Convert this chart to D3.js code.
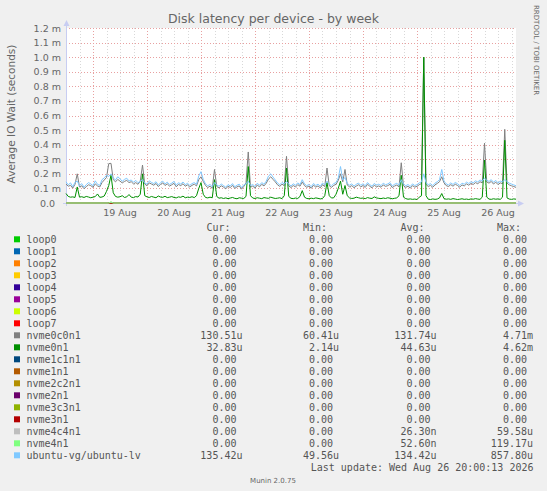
<!DOCTYPE html>
<html>
<head>
<meta charset="utf-8">
<script src="https://cdn.jsdelivr.net/npm/d3@7"></script>
<style>
body{margin:0;background:#f0f0f0;}
svg{display:block;}
text{font-family:"DejaVu Sans",sans-serif;fill:#666;}
.mono{font-family:"DejaVu Sans Mono",monospace;font-size:10px;fill:#555;white-space:pre;}
</style>
</head>
<body>
<svg></svg>
<script>
// hourly averages in ms, starting 18 Aug 12:00 (201 points, last at 26 Aug 20:00)
var startTime = new Date(Date.UTC(2026, 7, 18, 12, 0));
var endTime = new Date(Date.UTC(2026, 7, 26, 20, 0));

var nvme0c0n1 = [
 0.130,0.115,0.121,0.102,0.128,0.200,0.110,0.118,0.098,0.112,
 0.125,0.119,0.108,0.131,0.117,0.110,0.140,0.158,0.175,0.270,
 0.272,0.160,0.145,0.162,0.150,0.138,0.148,0.155,0.140,0.146,
 0.131,0.140,0.128,0.150,0.260,0.130,0.118,0.138,0.130,0.122,
 0.134,0.113,0.127,0.138,0.120,0.131,0.116,0.125,0.135,0.111,
 0.127,0.119,0.132,0.115,0.124,0.110,0.121,0.129,0.117,0.160,
 0.180,0.148,0.120,0.106,0.115,0.100,0.230,0.113,0.104,0.118,
 0.109,0.097,0.115,0.106,0.121,0.100,0.111,0.117,0.095,0.113,
 0.140,0.350,0.108,0.116,0.102,0.123,0.111,0.128,0.117,0.136,
 0.165,0.180,0.162,0.145,0.125,0.114,0.129,0.119,0.320,0.117,
 0.106,0.120,0.110,0.126,0.115,0.145,0.119,0.108,0.116,0.101,
 0.122,0.109,0.117,0.104,0.125,0.113,0.240,0.118,0.107,0.121,
 0.128,0.155,0.200,0.145,0.230,0.123,0.111,0.119,0.105,0.116,
 0.125,0.110,0.120,0.107,0.128,0.115,0.104,0.122,0.111,0.117,
 0.108,0.124,0.114,0.119,0.128,0.106,0.116,0.123,0.111,0.276,
 0.118,0.107,0.115,0.102,0.119,0.109,0.114,0.126,0.133,1.000,
 0.128,0.113,0.121,0.108,0.124,0.134,0.146,0.180,0.138,0.119,
 0.113,0.126,0.115,0.129,0.120,0.109,0.124,0.117,0.131,0.122,
 0.134,0.127,0.140,0.132,0.146,0.138,0.410,0.144,0.136,0.148,
 0.130,0.143,0.126,0.138,0.132,0.505,0.136,0.124,0.118,0.113,
 0.107];

var nvme0n1 = [
 0.065,0.045,0.040,0.042,0.038,0.110,0.040,0.043,0.038,0.045,
 0.041,0.036,0.040,0.044,0.062,0.039,0.041,0.048,0.080,0.120,
 0.190,0.070,0.045,0.040,0.043,0.050,0.038,0.042,0.058,0.040,
 0.037,0.044,0.041,0.060,0.200,0.050,0.042,0.038,0.045,0.040,
 0.036,0.048,0.041,0.039,0.046,0.037,0.040,0.044,0.038,0.035,
 0.042,0.039,0.047,0.036,0.040,0.038,0.043,0.037,0.050,0.100,
 0.140,0.060,0.038,0.035,0.040,0.036,0.160,0.045,0.033,0.036,
 0.031,0.035,0.030,0.034,0.038,0.032,0.029,0.036,0.033,0.031,
 0.045,0.250,0.050,0.034,0.031,0.036,0.033,0.030,0.037,0.034,
 0.032,0.040,0.035,0.031,0.033,0.036,0.030,0.050,0.240,0.045,
 0.032,0.030,0.034,0.031,0.045,0.085,0.040,0.031,0.029,0.033,
 0.030,0.035,0.032,0.028,0.031,0.050,0.140,0.050,0.034,0.036,
 0.060,0.100,0.150,0.060,0.120,0.050,0.035,0.031,0.033,0.040,
 0.036,0.032,0.034,0.030,0.037,0.033,0.031,0.042,0.035,0.032,
 0.030,0.034,0.031,0.036,0.033,0.029,0.032,0.035,0.050,0.190,
 0.040,0.030,0.026,0.028,0.025,0.027,0.024,0.040,0.050,1.000,
 0.050,0.026,0.024,0.028,0.025,0.027,0.035,0.065,0.030,0.026,
 0.028,0.025,0.030,0.027,0.024,0.026,0.029,0.025,0.027,0.024,
 0.028,0.026,0.030,0.027,0.025,0.040,0.295,0.040,0.027,0.025,
 0.029,0.026,0.028,0.025,0.040,0.430,0.035,0.027,0.025,0.028,
 0.026];

var ubuntuLv = [
 0.145,0.125,0.138,0.112,0.142,0.150,0.118,0.133,0.108,0.126,
 0.140,0.131,0.119,0.152,0.128,0.121,0.160,0.172,0.190,0.182,
 0.200,0.171,0.158,0.180,0.166,0.149,0.162,0.170,0.151,0.158,
 0.142,0.155,0.139,0.148,0.160,0.137,0.129,0.152,0.141,0.133,
 0.146,0.124,0.138,0.150,0.131,0.143,0.127,0.136,0.148,0.122,
 0.139,0.130,0.144,0.126,0.135,0.121,0.133,0.140,0.128,0.185,
 0.215,0.162,0.131,0.118,0.127,0.112,0.140,0.124,0.115,0.130,
 0.120,0.108,0.126,0.117,0.133,0.111,0.122,0.129,0.106,0.124,
 0.131,0.150,0.119,0.127,0.113,0.135,0.122,0.140,0.128,0.150,
 0.185,0.200,0.178,0.158,0.137,0.125,0.141,0.130,0.148,0.128,
 0.117,0.132,0.121,0.138,0.126,0.160,0.131,0.119,0.127,0.112,
 0.134,0.120,0.129,0.115,0.137,0.124,0.150,0.130,0.118,0.133,
 0.140,0.170,0.250,0.158,0.175,0.135,0.122,0.131,0.116,0.128,
 0.137,0.121,0.132,0.118,0.140,0.126,0.115,0.134,0.122,0.129,
 0.119,0.136,0.125,0.131,0.140,0.117,0.128,0.135,0.122,0.160,
 0.130,0.118,0.127,0.113,0.131,0.120,0.126,0.138,0.145,0.200,
 0.140,0.125,0.133,0.119,0.136,0.146,0.160,0.230,0.150,0.131,
 0.124,0.138,0.127,0.141,0.132,0.120,0.136,0.129,0.143,0.134,
 0.146,0.139,0.152,0.144,0.158,0.150,0.170,0.156,0.148,0.160,
 0.142,0.155,0.138,0.150,0.144,0.160,0.148,0.136,0.130,0.124,
 0.118];

// near-zero series as [hour, ms] points
var flatPoints = [[0, 0], [200, 0]];
var nvme4c4n1Points = [[0, 0], [19, 0], [20, 0.005], [21, 0], [200, 0]];
var nvme4n1Points = [[0, 0], [19, 0], [20, 0.009], [21, 0], [200, 0]];

var names = ["loop0","loop1","loop2","loop3","loop4","loop5","loop6","loop7",
 "nvme0c0n1","nvme0n1","nvme1c1n1","nvme1n1","nvme2c2n1","nvme2n1",
 "nvme3c3n1","nvme3n1","nvme4c4n1","nvme4n1","ubuntu-vg/ubuntu-lv"];
var colors = ["#00CC00","#0066B3","#FF8000","#FFCC00","#330099","#990099","#CCFF00","#FF0000",
 "#808080","#008F00","#00487D","#B35A00","#B38F00","#6B006B",
 "#8FB300","#B30000","#BEBEBE","#80FF80","#80C9FF"];
var curVals = ["0.00 ","0.00 ","0.00 ","0.00 ","0.00 ","0.00 ","0.00 ","0.00 ",
 "130.51u","32.83u","0.00 ","0.00 ","0.00 ","0.00 ","0.00 ","0.00 ","0.00 ","0.00 ","135.42u"];
var minVals = ["0.00 ","0.00 ","0.00 ","0.00 ","0.00 ","0.00 ","0.00 ","0.00 ",
 "60.41u","2.14u","0.00 ","0.00 ","0.00 ","0.00 ","0.00 ","0.00 ","0.00 ","0.00 ","49.56u"];
var avgVals = ["0.00 ","0.00 ","0.00 ","0.00 ","0.00 ","0.00 ","0.00 ","0.00 ",
 "131.74u","44.63u","0.00 ","0.00 ","0.00 ","0.00 ","0.00 ","0.00 ","26.30n","52.60n","134.42u"];
var maxVals = ["0.00 ","0.00 ","0.00 ","0.00 ","0.00 ","0.00 ","0.00 ","0.00 ",
 "4.71m","4.62m","0.00 ","0.00 ","0.00 ","0.00 ","0.00 ","0.00 ","59.58u","119.17u","857.80u"];
var headers = ["Cur:","Min:","Avg:","Max:"];

var yTicks = [0,0.1,0.2,0.3,0.4,0.5,0.6,0.7,0.8,0.9,1.0,1.1,1.2];
var xTickLabels = ["19 Aug","20 Aug","21 Aug","22 Aug","23 Aug","24 Aug","25 Aug","26 Aug"];

var plot = {left:66, right:516, top:28, bottom:203};

var svg = d3.select("svg").attr("width",547).attr("height",491);
svg.append("rect").attr("width",547).attr("height",491).attr("fill","#f0f0f0");
svg.append("rect")
  .attr("x",plot.left).attr("y",plot.top)
  .attr("width",plot.right-plot.left).attr("height",plot.bottom-plot.top)
  .attr("fill","#ffffff");

var xScale = d3.scaleUtc().domain([startTime,endTime]).range([plot.left,plot.right]);
var yScale = d3.scaleLinear().domain([0,1.2]).range([plot.bottom,plot.top]);

var hourTime = function(h){ return new Date(startTime.getTime() + h*3600000); };

// minor grid every 6 hours
var grid = svg.append("g");
grid.selectAll(".minor")
  .data(d3.utcHour.every(6).range(startTime, endTime))
  .enter().append("line")
  .attr("x1",function(d){return Math.round(xScale(d))+0.5;})
  .attr("x2",function(d){return Math.round(xScale(d))+0.5;})
  .attr("y1",plot.top).attr("y2",plot.bottom)
  .attr("stroke","#d8d8d8").attr("stroke-dasharray","1,2");

// major grid: day boundaries and value lines
grid.selectAll(".major")
  .data(d3.utcDay.range(startTime, endTime))
  .enter().append("line")
  .attr("x1",function(d){return Math.round(xScale(d))+0.5;})
  .attr("x2",function(d){return Math.round(xScale(d))+0.5;})
  .attr("y1",plot.top).attr("y2",plot.bottom)
  .attr("stroke","#e8a0a0").attr("stroke-dasharray","1,2");

grid.selectAll(".hmajor")
  .data(yTicks.slice(1))
  .enter().append("line")
  .attr("x1",plot.left).attr("x2",plot.right)
  .attr("y1",function(d){return Math.round(yScale(d))+0.5;})
  .attr("y2",function(d){return Math.round(yScale(d))+0.5;})
  .attr("stroke","#e8a0a0").attr("stroke-dasharray","1,2");

// axes with arrows
var axisColor = "#c8cdf2";
svg.append("line").attr("x1",plot.left+0.5).attr("x2",plot.left+0.5)
  .attr("y1",plot.bottom+3).attr("y2",24).attr("stroke",axisColor);
svg.append("path").attr("d","M"+(plot.left-2.5)+",26L"+(plot.left+0.5)+",20L"+(plot.left+3.5)+",26Z")
  .attr("fill",axisColor);
svg.append("line").attr("x1",plot.left-3).attr("x2",520)
  .attr("y1",plot.bottom+0.5).attr("y2",plot.bottom+0.5).attr("stroke",axisColor);
svg.append("path").attr("d","M518,"+(plot.bottom-2.5)+"L524,"+(plot.bottom+0.5)+"L518,"+(plot.bottom+3.5)+"Z")
  .attr("fill",axisColor);

// y labels
svg.selectAll(".ylab")
  .data(yTicks)
  .enter().append("text")
  .attr("x",function(d){return d===0 ? 55 : 61;})
  .attr("y",function(d){return yScale(d)+3.5;})
  .attr("text-anchor","end")
  .attr("font-size","9.5px")
  .text(function(d){return d===0 ? "0.0" : d.toFixed(1)+" m";});

// x labels at noon of each day
svg.selectAll(".xlab")
  .data(xTickLabels)
  .enter().append("text")
  .attr("x",function(d,i){return xScale(hourTime(24*i+24));})
  .attr("y",216)
  .attr("text-anchor","middle")
  .attr("font-size","9.5px")
  .text(function(d){return d;});

// title and axis title
svg.append("text").attr("x",273.5).attr("y",23).attr("text-anchor","middle")
  .attr("font-size","12.5px").attr("fill","#555").text("Disk latency per device - by week");
svg.append("text").attr("transform","translate(15,114) rotate(-90)")
  .attr("text-anchor","middle").attr("font-size","10.5px")
  .text("Average IO Wait (seconds)");
svg.append("text").attr("transform","translate(534,5) rotate(90)")
  .attr("font-size","7px").attr("fill","#c4c4c4")
  .text("RRDTOOL / TOBI OETIKER");

// series lines
var lineHourly = d3.line()
  .x(function(v,i){return xScale(hourTime(i));})
  .y(function(v){return yScale(v);});
var linePoints = d3.line()
  .x(function(p){return xScale(hourTime(p[0]));})
  .y(function(p){return yScale(p[1]);});

var seriesData = names.map(function(n){
  if (n==="nvme0c0n1") return {hourly:nvme0c0n1};
  if (n==="nvme0n1") return {hourly:nvme0n1};
  if (n==="ubuntu-vg/ubuntu-lv") return {hourly:ubuntuLv};
  if (n==="nvme4c4n1") return {points:nvme4c4n1Points};
  if (n==="nvme4n1") return {points:nvme4n1Points};
  return {points:flatPoints};
});

svg.append("g").selectAll("path")
  .data(seriesData)
  .enter().append("path")
  .attr("fill","none")
  .attr("stroke",function(d,i){return colors[i];})
  .attr("stroke-width",1)
  .attr("d",function(d){return d.hourly ? lineHourly(d.hourly) : linePoints(d.points);});

// legend
var legendTop = 239.3, rowH = 12;
var colEnds = [242.5, 339, 436.5, 533];

svg.selectAll(".hdr")
  .data(headers)
  .enter().append("text").attr("class","mono")
  .attr("x",function(d,i){return colEnds[i]-12;})
  .attr("y",legendTop-12+3.6)
  .attr("text-anchor","end")
  .text(function(d){return d;});

var rows = svg.selectAll(".row")
  .data(names)
  .enter().append("g")
  .attr("transform",function(d,i){return "translate(0,"+(legendTop+i*rowH)+")";});

rows.append("rect").attr("x",14).attr("y",-3).attr("width",6).attr("height",6)
  .attr("fill",function(d,i){return colors[i];});
rows.append("text").attr("class","mono").attr("x",26.5).attr("y",3.6)
  .text(function(d){return d;});
[curVals,minVals,avgVals,maxVals].forEach(function(col,c){
  rows.append("text").attr("class","mono")
    .attr("x",colEnds[c]).attr("y",3.6).attr("text-anchor","end")
    .text(function(d,i){return col[i];});
});

svg.append("text").attr("class","mono")
  .attr("x",533.5).attr("y",471.3).attr("text-anchor","end")
  .text("Last update: Wed Aug 26 20:00:13 2026");

svg.append("text").attr("x",273).attr("y",483).attr("text-anchor","middle")
  .attr("font-size","7px").attr("fill","#b8b8b8").text("Munin 2.0.75");
</script>
</body>
</html>
